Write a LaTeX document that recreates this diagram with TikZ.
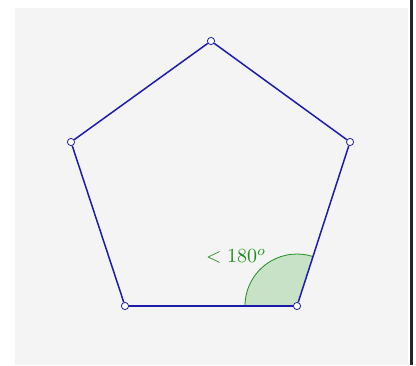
\documentclass[tikz,border=0pt]{standalone}
\usepackage{amsmath}
\usetikzlibrary{positioning}
\definecolor{bggray}{RGB}{244,244,244}
\definecolor{edgeblue}{RGB}{28,28,170}
\definecolor{anglegreen}{RGB}{30,140,30}
\definecolor{anglefill}{RGB}{200,226,200}

\begin{document}
\begin{tikzpicture}[x=0.5pt,y=-0.5pt,
	vertex/.style={circle,draw=edgeblue,fill=white,line width=0.4pt,inner sep=0pt,minimum size=3.6pt},
	edge/.style={draw=edgeblue,line width=0.75pt}]
		\useasboundingbox (0,0) rectangle (416,365);
		\fill[bggray] (15,8) rectangle (408,365);
		\fill[black!85] (410,0) rectangle (413,365);
		
		\fill[anglefill] (297,306) -- (245,306) arc[start angle=180, end angle=288, radius=52] -- cycle;
		\draw[anglegreen,line width=0.4pt] (245,306) arc[start angle=180, end angle=288, radius=52];
		
		\draw (211,41) node[vertex] (p1) {}
		(350,142) node[vertex] (p2) {}
		(297,306) node[vertex] (p3) {}
		(125,306) node[vertex] (p4) {}
		(71,142) node[vertex] (p5) {}
		(236,256) node[text=anglegreen] (lbl) {$< 180^{o}$};
		
		\draw[edge] (p1) -- (p2);
		\draw[edge] (p2) -- (p3);
		\draw[edge] (p3) -- (p4);
		\draw[edge] (p4) -- (p5);
		\draw[edge] (p5) -- (p1);
	\end{tikzpicture}
\end{document}
